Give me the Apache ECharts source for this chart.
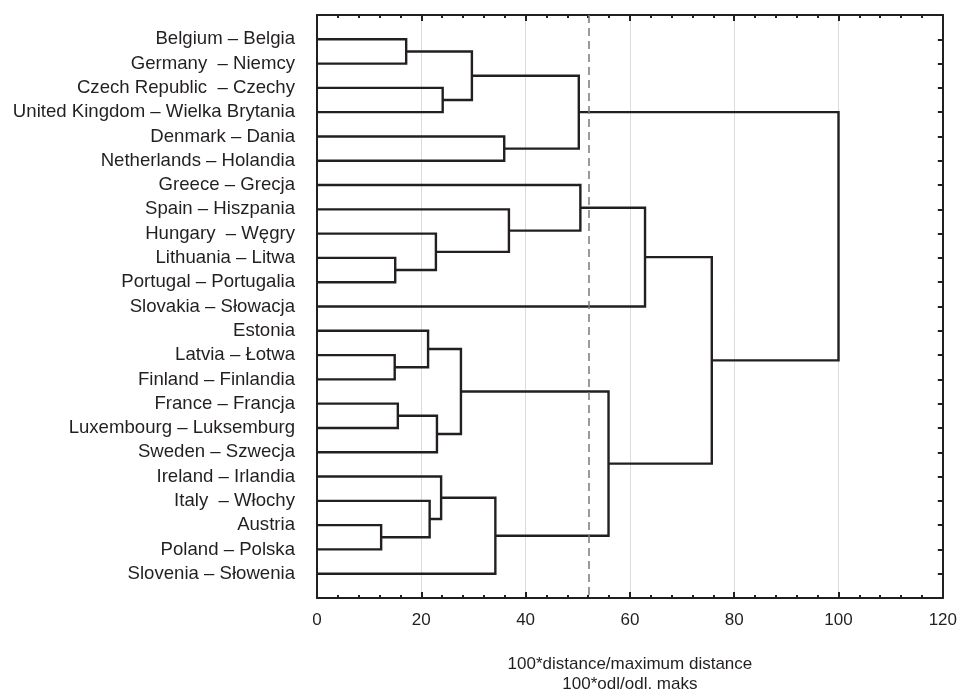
<!DOCTYPE html>
<html>
<head>
<meta charset="utf-8">
<script src="https://cdn.jsdelivr.net/npm/echarts@6/dist/echarts.min.js"></script>
<style>
    html, body { margin: 0; padding: 0; background: #fff; }
    #chart { width: 960px; height: 699px; }
</style>
</head>
<body>
<div id="chart"></div>
<script>
// leaf order, top to bottom (row index = leaf id)
var countries = [
    'Belgium – Belgia',
    'Germany  – Niemcy',
    'Czech Republic  – Czechy',
    'United Kingdom – Wielka Brytania',
    'Denmark – Dania',
    'Netherlands – Holandia',
    'Greece – Grecja',
    'Spain – Hiszpania',
    'Hungary  – Węgry',
    'Lithuania – Litwa',
    'Portugal – Portugalia',
    'Slovakia – Słowacja',
    'Estonia',
    'Latvia – Łotwa',
    'Finland – Finlandia',
    'France – Francja',
    'Luxembourg – Luksemburg',
    'Sweden – Szwecja',
    'Ireland – Irlandia',
    'Italy  – Włochy',
    'Austria',
    'Poland – Polska',
    'Slovenia – Słowenia'
];
// merge k joins mergeA[k] and mergeB[k] into node 23 + k
var mergeA = [20, 13, 9, 15, 0, 12, 19, 8, 26, 18, 2, 28, 27, 32, 4, 7, 35, 6, 34, 40, 42, 39];
var mergeB = [21, 14, 10, 16, 1, 24, 23, 25, 17, 29, 3, 31, 33, 22, 5, 30, 37, 38, 36, 11, 41, 43];
var mergeHeight = [12.3, 14.9, 15.0, 15.5, 17.1, 21.3, 21.6, 22.8, 23.0, 23.8, 24.1, 27.6, 29.7,
    34.2, 35.9, 36.8, 50.2, 50.5, 55.9, 62.9, 75.7, 100];
var cutoff = 52.1;

var nodeX = [], nodeY = [];
countries.forEach(function (c, i) {
    nodeX.push(0);
    nodeY.push(i);
});
var links = [];
for (var k = 0; k < mergeHeight.length; k++) {
    var a = mergeA[k], b = mergeB[k];
    links.push([nodeX[a], nodeY[a], mergeHeight[k], nodeY[b], nodeX[b]]);
    nodeX.push(mergeHeight[k]);
    nodeY.push((nodeY[a] + nodeY[b]) / 2);
}

var ink = '#231f20';
var font = "'Liberation Sans', Arial, sans-serif";

var option = {
    backgroundColor: '#fff',
    animation: false,
    grid: {
        left: 317,
        right: 17,
        top: 15,
        bottom: 95
    },
    xAxis: [
        {
            type: 'value',
            position: 'bottom',
            min: 0,
            max: 120,
            interval: 20,
            name: '100*distance/maximum distance\n100*odl/odl. maks',
            nameLocation: 'middle',
            nameGap: 56,
            nameTextStyle: {
                color: ink,
                fontFamily: font,
                fontSize: 17,
                lineHeight: 20
            },
            axisLine: {onZero: false, lineStyle: {color: ink, width: 2}},
            axisTick: {inside: true, length: 6, lineStyle: {color: ink, width: 2}},
            minorTick: {show: true, splitNumber: 5, length: 3, lineStyle: {color: ink, width: 2}},
            axisLabel: {color: ink, fontFamily: font, fontSize: 17, margin: 14},
            splitLine: {show: true, lineStyle: {color: '#dcdcdc', width: 1}}
        },
        {
            type: 'value',
            position: 'top',
            min: 0,
            max: 120,
            interval: 20,
            axisLine: {onZero: false, lineStyle: {color: ink, width: 2}},
            axisTick: {inside: true, length: 6, lineStyle: {color: ink, width: 2}},
            minorTick: {show: true, splitNumber: 5, length: 3, lineStyle: {color: ink, width: 2}},
            axisLabel: {show: false},
            splitLine: {show: false}
        }
    ],
    yAxis: [
        {
            type: 'value',
            position: 'left',
            inverse: true,
            min: -1,
            max: 23,
            interval: 1,
            axisLine: {show: true, onZero: false, lineStyle: {color: ink, width: 2}},
            axisTick: {show: false},
            axisLabel: {
                color: ink,
                fontFamily: font,
                fontSize: 18.6,
                margin: 22,
                formatter: function (v) {
                    return countries[v] || '';
                }
            },
            splitLine: {show: false}
        },
        {
            type: 'value',
            position: 'right',
            inverse: true,
            min: -1,
            max: 23,
            interval: 1,
            axisLine: {show: true, onZero: false, lineStyle: {color: ink, width: 2}},
            axisTick: {inside: true, length: 5, lineStyle: {color: ink, width: 2}},
            axisLabel: {show: false},
            splitLine: {show: false}
        }
    ],
    series: [
        {
            type: 'custom',
            xAxisIndex: 0,
            yAxisIndex: 0,
            data: links,
            encode: {x: [0, 2, 4], y: [1, 3]},
            renderItem: function (params, api) {
                var pts = [
                    api.coord([api.value(0), api.value(1)]),
                    api.coord([api.value(2), api.value(1)]),
                    api.coord([api.value(2), api.value(3)]),
                    api.coord([api.value(4), api.value(3)])
                ];
                return {
                    type: 'polyline',
                    shape: {points: pts},
                    style: {stroke: ink, lineWidth: 2.4, fill: null, lineJoin: 'miter'}
                };
            },
            markLine: {
                silent: true,
                symbol: 'none',
                label: {show: false},
                lineStyle: {color: '#7a7a7a', width: 1.5, type: [8, 5]},
                data: [{xAxis: cutoff}]
            }
        }
    ]
};

var chart = echarts.init(document.getElementById('chart'));
chart.setOption(option);
</script>
</body>
</html>
